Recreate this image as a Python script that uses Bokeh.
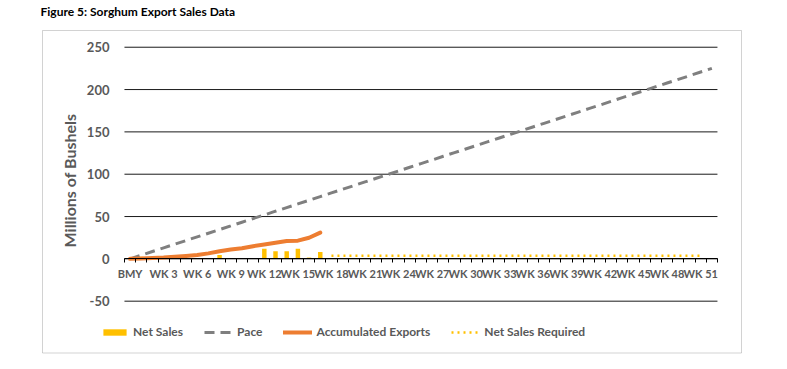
from bokeh.plotting import figure
from bokeh.models import (Range1d, FixedTicker, Legend, LegendItem, Label,
                          BoxAnnotation, ColumnDataSource)
from bokeh.embed import file_html
from bokeh.resources import INLINE

# ---- data ----
categories = ["BMY"] + ["WK %d" % i for i in range(1, 53)]

net_sales = [0, 2.5, 0, 0, 2.5, 0, 0, 0, 4.5, 0, 0, 1, 12, 9, 9, 12, 1.5, 8]

accumulated = [0, 0.5, 1, 1.5, 2.5, 3.5, 4.5, 6.5, 9, 11, 12.5, 15, 17, 19,
               21, 21.5, 25, 31]

pace = [0, 4.3, 8.7, 13.0, 17.3, 21.6, 26.0, 30.3, 34.6, 38.9, 43.3, 47.6,
        51.9, 56.3, 60.6, 64.9, 69.2, 73.6, 77.9, 82.2, 86.5, 90.9, 95.2,
        99.5, 103.8, 108.2, 112.5, 116.8, 121.2, 125.5, 129.8, 134.1, 138.5,
        142.8, 147.1, 151.4, 155.8, 160.1, 164.4, 168.8, 173.1, 177.4, 181.7,
        186.1, 190.4, 194.7, 199.0, 203.4, 207.7, 212.0, 216.3, 220.7, 225.0]

required_start = "WK 18"
required_end = "WK 51"
required_value = 3.7

y_ticks = [-50, 0, 50, 100, 150, 200, 250]
y_tick_labels = ["-50", "0", "50", "100", "150", "200", "250"]

# ---- positions of categories on a numeric scale (one unit per category) ----
n = len(categories)
pos = {c: i + 0.5 for i, c in enumerate(categories)}
x_all = [pos[c] for c in categories]

i0 = categories.index(required_start)
i1 = categories.index(required_end)
req_cats = categories[i0:i1 + 1]

src_bar = ColumnDataSource(dict(x=x_all[:len(net_sales)], y=net_sales))
src_acc = ColumnDataSource(dict(x=x_all[:len(accumulated)], y=accumulated))
src_pace = ColumnDataSource(dict(x=x_all[:len(pace)], y=pace))
src_req = ColumnDataSource(dict(x=[pos[c] for c in req_cats],
                                y=[required_value] * len(req_cats)))
src_grid = ColumnDataSource(dict(x0=[0] * len(y_ticks), x1=[n] * len(y_ticks),
                                 y=y_ticks))

# the frame covers the whole canvas; the plot area sits inside it
p = figure(width=787, height=369, output_backend="svg", toolbar_location=None,
           x_range=Range1d(-11.08, n + 6.26), y_range=Range1d(-130.7, 305.2),
           min_border=0)
p.outline_line_color = None
p.background_fill_color = "white"
p.border_fill_color = "white"

FONT = "Lato"
GREY = "#595959"

p.xgrid.visible = False
p.ygrid.visible = False

# outer chart box
p.add_layout(BoxAnnotation(left=42, right=741, bottom=16.5, top=339,
                           left_units="screen", right_units="screen",
                           top_units="screen", bottom_units="screen",
                           fill_alpha=0, line_color="#6A6A6A", line_width=1))

# title
p.add_layout(Label(x=40, y=358, x_units="screen", y_units="screen",
                   text="Figure 5: Sorghum Export Sales Data",
                   text_font=FONT, text_font_style="bold", text_font_size="12px",
                   text_color="black", text_baseline="middle", text_align="left"))

# gridlines across the plot area only
p.segment(x0="x0", x1="x1", y0="y", y1="y", source=src_grid,
          line_color="#1a1a1a", line_width=1)

# y axis at the plot-area left edge
ya = p.yaxis[0]
ya.fixed_location = 0
ya.bounds = (-64, 250)
ya.ticker = FixedTicker(ticks=y_ticks)
ya.major_label_overrides = dict(zip(y_ticks, y_tick_labels))
ya.axis_line_color = None
ya.major_tick_line_color = None
ya.minor_tick_line_color = None
ya.major_tick_out = 0
ya.major_label_standoff = 15
ya.major_label_text_font = FONT
ya.major_label_text_font_style = "bold"
ya.major_label_text_font_size = "13px"
ya.major_label_text_color = GREY
ya.axis_label = "Millions of Bushels"
ya.axis_label_text_font = FONT
ya.axis_label_text_font_style = "bold"
ya.axis_label_text_font_size = "16px"
ya.axis_label_text_color = GREY
ya.axis_label_standoff = 5

# x axis crossing at y = 0
xa = p.xaxis[0]
xa.fixed_location = 0
xa.bounds = (0, n)
xa.ticker = FixedTicker(ticks=[pos[c] for c in categories[::3]],
                        minor_ticks=list(range(n + 1)))
xa.major_label_overrides = {pos[c]: c for c in categories[::3]}
xa.axis_line_color = "black"
xa.axis_line_width = 1
xa.major_tick_line_color = None
xa.major_tick_out = 0
xa.major_tick_in = 0
xa.minor_tick_line_color = "black"
xa.minor_tick_out = 4
xa.minor_tick_in = 0
xa.major_label_standoff = 4
xa.major_label_text_font = FONT
xa.major_label_text_font_style = "bold"
xa.major_label_text_font_size = "11px"
xa.major_label_text_color = GREY

# series
r_bar = p.vbar(x="x", top="y", width=0.4, bottom=0, source=src_bar,
               fill_color="#FFC000", line_color=None)
r_pace = p.line("x", "y", source=src_pace, line_color="#7F7F7F", line_width=3,
                line_dash="10 6")
r_acc = p.line("x", "y", source=src_acc, line_color="#ED7D31", line_width=4,
               line_cap="round", line_join="round")
r_req = p.line("x", "y", source=src_req, line_color="#FFC000", line_width=2.5,
               line_dash="2 4")

legend = Legend(items=[LegendItem(label="Net Sales", renderers=[r_bar]),
                       LegendItem(label="Pace", renderers=[r_pace]),
                       LegendItem(label="Accumulated Exports", renderers=[r_acc]),
                       LegendItem(label="Net Sales Required", renderers=[r_req])],
                orientation="horizontal", location=(100, 30),
                glyph_width=29, glyph_height=8, label_standoff=4, spacing=21,
                padding=0, margin=0, border_line_color=None,
                background_fill_alpha=0, label_text_font=FONT,
                label_text_font_style="bold",
                label_text_font_size="12px", label_text_color=GREY,
                label_height=8)
p.add_layout(legend, "center")

open("out.html", "w").write(file_html(p, INLINE))
